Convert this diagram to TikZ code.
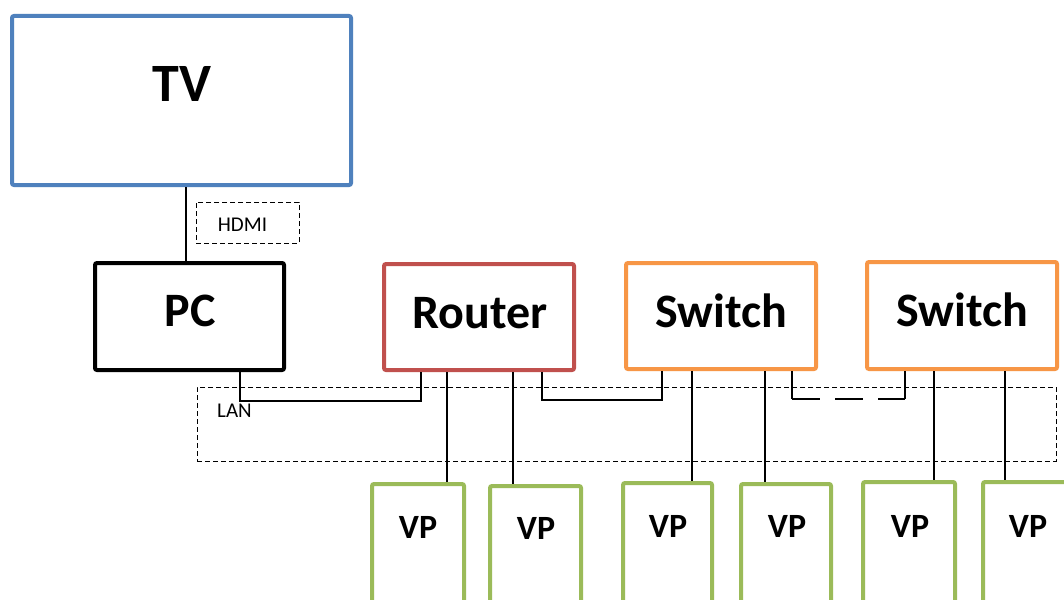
\documentclass[tikz,border=0pt]{standalone}
\usepackage{fontspec}
\setmainfont{Carlito}
\definecolor{tvblue}{HTML}{4F81BD}
\definecolor{rtred}{HTML}{C0504D}
\definecolor{swor}{HTML}{F79646}
\definecolor{vpgreen}{HTML}{9BBB59}
\tikzset{
  box/.style={draw, rectangle, line width=4pt, rounded corners=2pt, inner sep=0pt},
  vpbox/.style={box, draw=vpgreen, anchor=north, minimum height=170pt},
  big/.style={font=\bfseries\fontsize{48}{48}\selectfont, inner sep=0pt},
  vpt/.style={font=\bfseries\fontsize{34}{34}\selectfont, inner sep=0pt},
  small/.style={font=\fontsize{21}{21}\selectfont, inner sep=0pt},
  dbox/.style={draw, dashed, line width=1pt, dash pattern=on 5pt off 3pt, inner sep=0pt},
  wire/.style={line width=2.3pt},
}
\begin{document}
\begin{tikzpicture}[x=1pt,y=-1pt]
\useasboundingbox (0,0) rectangle (1064,599);
\clip (0,0) rectangle (1064,599);
\fill[white] (0,0) rectangle (1064,599);
% dashed boxes
\node[dbox, minimum width=103pt, minimum height=41pt] (hdmibox) at (247.5,222.5) {};
\node[small] (hdmi) at (242.5,225) {HDMI};
\node[dbox, minimum width=859pt, minimum height=74pt] (lanbox) at (626.5,424) {};
\node[small] (lan) at (234.5,411) {LAN};
% main boxes
\node[box, draw=tvblue, minimum width=339pt, minimum height=169pt] (tv) at (181.5,100.5) {};
\node[font=\bfseries\fontsize{54}{54}\selectfont, inner sep=0pt] (tvt) at (182,84) {TV};
\node[box, draw=black, minimum width=189pt, minimum height=107pt] (pc) at (189.5,316.5) {};
\node[big] (pct) at (190,311) {PC};
\node[box, draw=rtred, minimum width=190pt, minimum height=106pt] (router) at (479,317) {};
\node[big] (routert) at (480,313) {Router};
\node[box, draw=swor, minimum width=190pt, minimum height=106pt] (sw1) at (721,316) {};
\node[big] (sw1t) at (721,311) {Switch};
\node[box, draw=swor, minimum width=190pt, minimum height=107pt] (sw2) at (962,315.5) {};
\node[big] (sw2t) at (962,310) {Switch};
% VP boxes
\node[vpbox, minimum width=92pt] (vp1) at (418,482) {};
\node[vpbox, minimum width=91pt] (vp2) at (535.5,484) {};
\node[vpbox, minimum width=89pt] (vp3) at (667.5,481) {};
\node[vpbox, minimum width=90pt] (vp4) at (786,482) {};
\node[vpbox, minimum width=92pt] (vp5) at (909,480) {};
\node[vpbox, minimum width=90pt] (vp6) at (1028,480) {};
\node[vpt] (vp1t) at (418,527) {VP};
\node[vpt] (vp2t) at (536,528) {VP};
\node[vpt] (vp3t) at (668,526) {VP};
\node[vpt] (vp4t) at (787,526) {VP};
\node[vpt] (vp5t) at (910,526) {VP};
\node[vpt] (vp6t) at (1028,526) {VP};
% connectors
\draw[wire] ([xshift=4.5pt]tv.south) -- ([xshift=4.5pt]tv.south |- pc.north);
\draw[wire] ([xshift=50.5pt]pc.south) |- ([xshift=-58pt,yshift=-29pt]router.south) -- ([xshift=-58pt]router.south);
\draw[wire] ([xshift=63pt]router.south) |- ([xshift=-59pt,yshift=-29pt]sw1.south) -- ([xshift=-59pt]sw1.south);
\coordinate (s1a) at ([xshift=71pt,yshift=-28pt]sw1.south);
\coordinate (s2a) at ([xshift=-57pt,yshift=-28pt]sw2.south);
\draw[wire] ([xshift=71pt]sw1.south) -- (s1a);
\draw[wire, dash pattern=on 28pt off 15pt] (s1a) -- (s2a);
\draw[wire] (s2a) -- ([xshift=-57pt]sw2.south);
\draw[wire] ([xshift=-32pt]router.south) -- ([xshift=-32pt]router.south |- vp1.north);
\draw[wire] ([xshift=34pt]router.south) -- ([xshift=34pt]router.south |- vp2.north);
\draw[wire] ([xshift=-29pt]sw1.south) -- ([xshift=-29pt]sw1.south |- vp3.north);
\draw[wire] ([xshift=44pt]sw1.south) -- ([xshift=44pt]sw1.south |- vp4.north);
\draw[wire] ([xshift=-28pt]sw2.south) -- ([xshift=-28pt]sw2.south |- vp5.north);
\draw[wire] ([xshift=43pt]sw2.south) -- ([xshift=43pt]sw2.south |- vp6.north);
\end{tikzpicture}
\end{document}
